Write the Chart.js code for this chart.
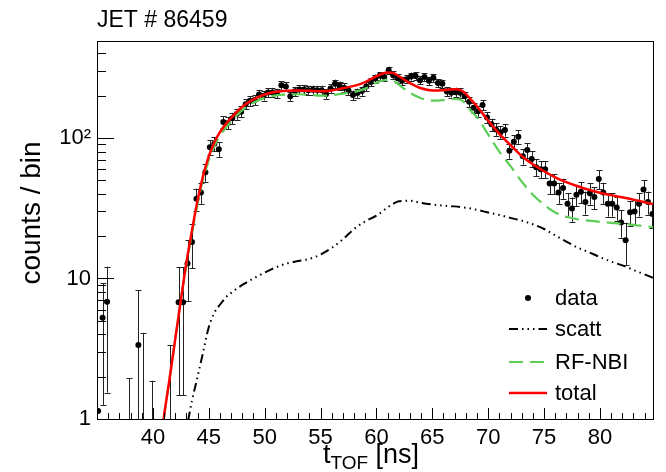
<!DOCTYPE html>
<html>
<head>
<meta charset="utf-8">
<script src="https://cdn.jsdelivr.net/npm/chart.js@4.4.0/dist/chart.umd.min.js"></script>
<style>
  html, body { margin: 0; padding: 0; background: #fff; }
</style>
</head>
<body>
<canvas id="chart" width="666" height="472"></canvas>
<script>
// bin centres of the TOF histogram (ns), 0.4 ns bins
const tof = [
  35.1, 35.5, 35.9, 36.3, 36.7, 37.1, 37.5, 37.9, 38.3, 38.7,
  39.1, 39.5, 39.9, 40.3, 40.7, 41.1, 41.5, 41.9, 42.3, 42.7,
  43.1, 43.5, 43.9, 44.3, 44.7, 45.1, 45.5, 45.9, 46.3, 46.7,
  47.1, 47.5, 47.9, 48.3, 48.7, 49.1, 49.5, 49.9, 50.3, 50.7,
  51.1, 51.5, 51.9, 52.3, 52.7, 53.1, 53.5, 53.9, 54.3, 54.7,
  55.1, 55.5, 55.9, 56.3, 56.7, 57.1, 57.5, 57.9, 58.3, 58.7,
  59.1, 59.5, 59.9, 60.3, 60.7, 61.1, 61.5, 61.9, 62.3, 62.7,
  63.1, 63.5, 63.9, 64.3, 64.7, 65.1, 65.5, 65.9, 66.3, 66.7,
  67.1, 67.5, 67.9, 68.3, 68.7, 69.1, 69.5, 69.9, 70.3, 70.7,
  71.1, 71.5, 71.9, 72.3, 72.7, 73.1, 73.5, 73.9, 74.3, 74.7,
  75.1, 75.5, 75.9, 76.3, 76.7, 77.1, 77.5, 77.9, 78.3, 78.7,
  79.1, 79.5, 79.9, 80.3, 80.7, 81.1, 81.5, 81.9, 82.3, 82.7,
  83.1, 83.5, 83.9, 84.3, 84.7
];
// counts per bin (null = empty bin, 0 = bin with only an error bar)
const counts = [
  1.14, 5.26, 6.84, null, null, null, null, 0, null, 3.36,
  0, null, 0, null, null, null, 0, null, 6.78, 6.78,
  12.8, 18.2, 37, 41, 57, 86, 91, 83, 130, 128,
  138, 148, 154, 174, 184, 186, 204, 200, 211, 211,
  208, 237, 232, 198, 215, 221, 221, 219, 220, 219,
  219, 206, 225, 243, 235, 228, 218, 202, 209, 216,
  232, 250, 265, 277, 272, 303, 280, 266, 255, 262,
  274, 276, 258, 272, 255, 268, 246, 243, 214, 210,
  212, 210, 198, 181, 164, 155, 172, 140, 125, 115,
  110, 114, 81, 94, 102, 74, 82, 71, 62, 60,
  60, 47.5, 47.5, 41, 44, 34, 31.5, 39.5, 41.5, 35,
  40.5, 38, 51, 41, 34, 34, 32, 25, 18.7, 29.6,
  30, 34, 43, 35, 28.8
];
const errors = [
  0, 4, 5.3, null, null, null, null, 1.95, null, 4.9,
  4.1, null, 1.87, null, null, null, 3.36, null, 5.3, 5.3,
  5.9, 6.4, 6.6, 7, 8.3, 10, 10.5, 10, 12.5, 12.4,
  13, 13.4, 13.7, 14.5, 15, 15, 15.7, 15.5, 16, 16,
  15.9, 17, 16.8, 15.5, 16.1, 16.4, 16.4, 16.3, 16.3, 16.3,
  16.3, 15.8, 16.5, 17.1, 16.9, 16.6, 16.2, 15.6, 15.9, 16.2,
  16.8, 17.4, 17.9, 18.3, 18.1, 19.1, 18.4, 17.9, 17.6, 17.8,
  18.2, 18.3, 17.7, 18.1, 17.6, 18, 17.3, 17.1, 16.1, 15.9,
  16, 15.9, 15.5, 14.8, 14.1, 13.7, 14.4, 13, 12.3, 11.8,
  11.5, 11.7, 9.9, 10.7, 11.1, 9.5, 10, 9.3, 8.7, 8.5,
  8.5, 7.6, 7.6, 7, 7.3, 6.4, 6.2, 6.9, 7.1, 6.5,
  7, 6.8, 7.9, 7, 6.4, 6.4, 6.2, 5.5, 6.2, 6,
  6, 6.4, 7.2, 6.5, 5.9
];

// fit components sampled on a common time grid
const curveT = [
  40.5, 41, 41.5, 42, 42.5, 43, 43.5, 44, 44.5, 45, 45.5, 46, 46.5, 47,
  48, 49, 50, 51, 52, 53, 54, 55, 56, 57, 58, 59, 60, 61, 61.5, 62,
  63, 64, 65, 66, 67, 67.5, 68, 68.5, 69, 70, 71, 72, 73, 74, 75, 76,
  77, 78, 79, 80, 81, 82, 83, 84, 84.75
];
const scatt = [
  0.15, 0.2, 0.3, 0.42, 0.6, 0.85, 1.35, 2.0, 3.0, 4.5, 5.7, 6.5, 7.3, 7.9,
  9.0, 10.0, 11.0, 12.0, 12.8, 13.3, 13.8, 14.8, 16.5, 19, 22.5, 25.5, 28, 32, 34, 35.5,
  35.8, 34.5, 33.6, 33, 32.6, 32.3, 31.9, 31.4, 30.8, 29.5, 28.3, 27, 25.8, 24.3, 22.5, 20.3,
  18.3, 16.6, 15.4, 14.2, 13.2, 12.4, 11.5, 10.7, 10.1
];
const rfNbi = [
  0.5, 1.05, 1.95, 3.7, 7.0, 12.5, 21, 34, 51, 69.5, 87.5, 103.5, 117.7, 131,
  158, 178, 193, 201, 204, 204.7, 203, 200, 201.5, 207, 212.5, 224.5, 247, 260, 256, 239.5,
  210, 191.5, 184.4, 186, 189.4, 187.7, 174, 154.6, 140, 106, 80, 63, 49, 39.5, 33.5, 29.5,
  27.5, 26.4, 25.8, 25.3, 24.9, 24.5, 24.1, 23.6, 23.2
];
const total = [
  0.5, 1.05, 1.95, 3.7, 7.0, 13, 22, 36, 54, 74, 93, 110, 125, 139,
  167, 188, 204, 213, 217, 218, 217, 215, 218, 226, 235, 250, 275, 292, 290, 275,
  246, 226, 218, 219, 222, 220, 206, 186, 168, 133, 107, 89, 74.5, 65, 58, 52.5,
  48.5, 45.3, 42.8, 40.8, 39.2, 37.8, 36.4, 34.9, 33.8
];

const xTicks = [40, 45, 50, 55, 60, 65, 70, 75, 80];
const yTicks = [1, 10, 100];
const yTickLabels = ['1', '10', '10\u00B2'];

const FONT = '"Liberation Sans", Arial, sans-serif';

const pts = (xs, ys) => xs.map((x, i) => ({ x: x, y: ys[i] }));

const rootAxes = {
  id: 'rootAxes',
  beforeDatasetsDraw(chart) {
    // error bars of the data points
    const ctx = chart.ctx, xs = chart.scales.x, ys = chart.scales.y, a = chart.chartArea;
    ctx.save();
    ctx.beginPath();
    ctx.rect(a.left, a.top, a.right - a.left, a.bottom - a.top);
    ctx.clip();
    ctx.strokeStyle = '#222';
    ctx.lineWidth = 1;
    tof.forEach((t, i) => {
      const v = counts[i], e = errors[i];
      if (v === null || e === null || e === 0) return;
      const px = Math.round(xs.getPixelForValue(t)) + 0.5;
      const lo = v - e, hi = v + e;
      const pyHi = ys.getPixelForValue(hi);
      const pyLo = lo > 0 ? ys.getPixelForValue(lo) : a.bottom + 2;
      ctx.beginPath();
      ctx.moveTo(px, pyLo);
      ctx.lineTo(px, pyHi);
      ctx.moveTo(px - 3, Math.round(pyHi) + 0.5);
      ctx.lineTo(px + 3, Math.round(pyHi) + 0.5);
      if (lo > 1) {
        ctx.moveTo(px - 3, Math.round(pyLo) + 0.5);
        ctx.lineTo(px + 3, Math.round(pyLo) + 0.5);
      }
      ctx.stroke();
    });
    ctx.restore();
  },
  afterDraw(chart) {
    const ctx = chart.ctx, xs = chart.scales.x, ys = chart.scales.y, a = chart.chartArea;
    ctx.save();
    ctx.strokeStyle = '#000';
    ctx.lineWidth = 1;
    // frame
    ctx.strokeRect(Math.round(a.left) + 0.5, Math.round(a.top) + 0.5,
      Math.round(a.right - a.left), Math.round(a.bottom - a.top));
    // x ticks, inside the frame
    ctx.beginPath();
    for (let t = 36; t <= 84; t++) {
      const px = Math.round(xs.getPixelForValue(t)) + 0.5;
      const len = t % 5 === 0 ? 11 : 6;
      ctx.moveTo(px, a.bottom);
      ctx.lineTo(px, a.bottom - len);
    }
    // y ticks (log decades with minors)
    for (let d = 1; d <= 100; d *= 10) {
      for (let m = 1; m <= 9; m++) {
        const v = d * m;
        if (v > ys.max) break;
        const py = Math.round(ys.getPixelForValue(v)) + 0.5;
        const len = m === 1 ? 17 : 9;
        ctx.moveTo(a.left, py);
        ctx.lineTo(a.left + len, py);
      }
    }
    ctx.stroke();

    // titles
    ctx.fillStyle = '#000';
    ctx.textBaseline = 'alphabetic';
    ctx.textAlign = 'left';
    ctx.font = '23px ' + FONT;
    ctx.fillText('JET # 86459', 97, 27);

    // x axis title with subscript
    ctx.font = '27px ' + FONT;
    const w1 = ctx.measureText('t').width;
    const w3 = ctx.measureText(' [ns]').width;
    ctx.font = '19px ' + FONT;
    const w2 = ctx.measureText('TOF').width;
    let x0 = 371 - (w1 + w2 + w3) / 2;
    const base = 463;
    ctx.font = '27px ' + FONT;
    ctx.fillText('t', x0, base);
    ctx.font = '19px ' + FONT;
    ctx.fillText('TOF', x0 + w1, base + 6);
    ctx.font = '27px ' + FONT;
    ctx.fillText(' [ns]', x0 + w1 + w2, base);

    // y axis title
    ctx.save();
    ctx.translate(40, 213);
    ctx.rotate(-Math.PI / 2);
    ctx.textAlign = 'center';
    ctx.font = '28px ' + FONT;
    ctx.fillText('counts / bin', 0, 0);
    ctx.restore();

    // legend
    const rows = [298, 329, 362, 393];
    ctx.font = '22px ' + FONT;
    ctx.textBaseline = 'middle';
    chart.data.datasets.forEach((ds, i) => {
      const y = rows[i];
      if (ds.showLine) {
        ctx.save();
        ctx.strokeStyle = ds.borderColor;
        ctx.lineWidth = ds.borderWidth;
        ctx.setLineDash(ds.borderDash || []);
        ctx.beginPath();
        ctx.moveTo(509, y);
        ctx.lineTo(547, y);
        ctx.stroke();
        ctx.restore();
      } else {
        ctx.beginPath();
        ctx.arc(528, y, 3, 0, Math.PI * 2);
        ctx.fill();
      }
      ctx.fillText(ds.label, 555, y + 1);
    });
    ctx.restore();
  }
};

const ctx = document.getElementById('chart').getContext('2d');
new Chart(ctx, {
  type: 'scatter',
  data: {
    datasets: [
      {
        label: 'data',
        data: tof.map((t, i) => ({ x: t, y: counts[i] > 0 ? counts[i] : null })),
        showLine: false,
        pointRadius: 3,
        pointBackgroundColor: '#000',
        pointBorderWidth: 0,
        order: 3
      },
      {
        label: 'scatt',
        data: pts(curveT, scatt),
        showLine: true,
        borderColor: '#000',
        borderWidth: 2,
        borderDash: [9, 4, 1.5, 4, 1.5, 4, 1.5, 4],
        pointRadius: 0,
        cubicInterpolationMode: 'monotone',
        order: 2
      },
      {
        label: 'RF-NBI',
        data: pts(curveT, rfNbi),
        showLine: true,
        borderColor: 'rgb(92, 206, 86)',
        borderWidth: 2.2,
        borderDash: [14, 7],
        pointRadius: 0,
        cubicInterpolationMode: 'monotone',
        order: 1
      },
      {
        label: 'total',
        data: pts(curveT, total),
        showLine: true,
        borderColor: 'rgb(255, 0, 0)',
        borderWidth: 2.5,
        pointRadius: 0,
        cubicInterpolationMode: 'monotone',
        order: 0
      }
    ]
  },
  options: {
    responsive: false,
    animation: false,
    layout: { padding: { top: 41, right: 13, left: 0, bottom: 0 } },
    plugins: {
      legend: { display: false },
      tooltip: { enabled: false },
      title: { display: false }
    },
    scales: {
      x: {
        type: 'linear',
        min: 35,
        max: 84.75,
        grid: { display: false, drawTicks: false },
        border: { display: false },
        afterFit: s => { s.height = 53; },
        afterBuildTicks: s => { s.ticks = xTicks.map(v => ({ value: v })); },
        ticks: {
          autoSkip: false,
          maxRotation: 0,
          padding: 6,
          color: '#000',
          font: { family: FONT, size: 22 }
        }
      },
      y: {
        type: 'logarithmic',
        min: 1,
        max: 490,
        grid: { display: false, drawTicks: false },
        border: { display: false },
        afterFit: s => { s.width = 97; },
        afterBuildTicks: s => { s.ticks = yTicks.map(v => ({ value: v })); },
        ticks: {
          autoSkip: false,
          padding: 6,
          color: '#000',
          font: { family: FONT, size: 22 },
          callback: (v, i) => yTickLabels[i]
        }
      }
    }
  },
  plugins: [rootAxes]
});
</script>
</body>
</html>
